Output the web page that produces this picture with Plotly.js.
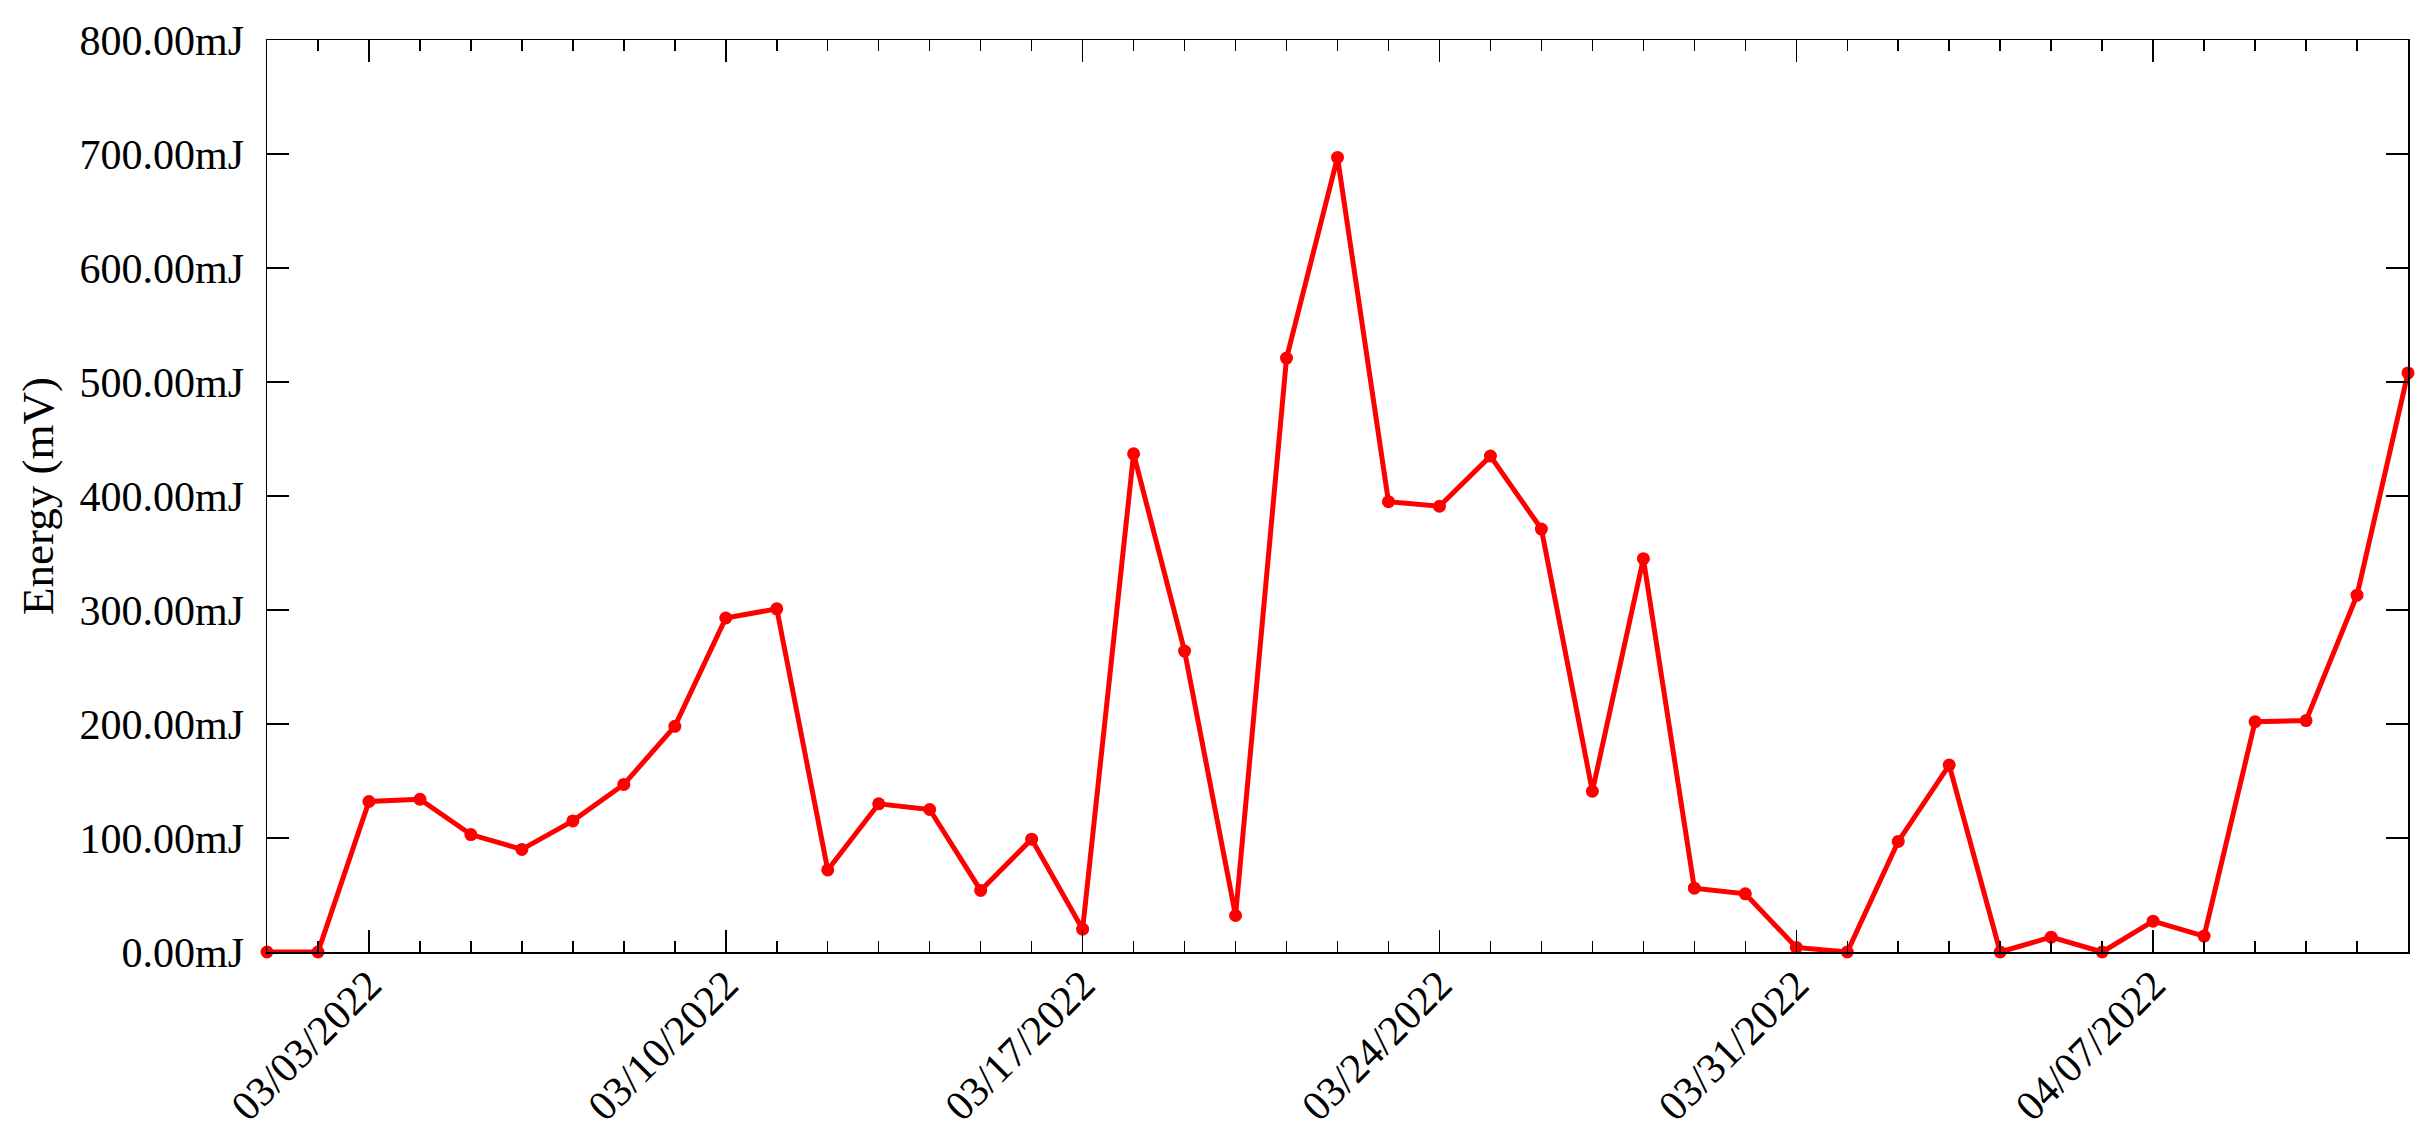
<!DOCTYPE html>
<html>
<head>
<meta charset="utf-8">
<script src="https://cdn.plot.ly/plotly-3.0.1.min.js"></script>
<style>
html, body { margin: 0; padding: 0; background: #ffffff; }
#chart { width: 2426px; height: 1135px; }
</style>
</head>
<body>
<div id="chart"></div>
<script>
const dates = [
  '2022-03-01','2022-03-02','2022-03-03','2022-03-04','2022-03-05','2022-03-06','2022-03-07',
  '2022-03-08','2022-03-09','2022-03-10','2022-03-11','2022-03-12','2022-03-13','2022-03-14',
  '2022-03-15','2022-03-16','2022-03-17','2022-03-18','2022-03-19','2022-03-20','2022-03-21',
  '2022-03-22','2022-03-23','2022-03-24','2022-03-25','2022-03-26','2022-03-27','2022-03-28',
  '2022-03-29','2022-03-30','2022-03-31','2022-04-01','2022-04-02','2022-04-03','2022-04-04',
  '2022-04-05','2022-04-06','2022-04-07','2022-04-08','2022-04-09','2022-04-10','2022-04-11',
  '2022-04-12'
];
const energy = [
  0, 0, 132, 134, 103, 90, 115,
  147, 198, 293, 301, 72, 130, 125,
  54, 99, 20, 437, 264, 32, 521,
  697, 395, 391, 435, 371, 141, 345,
  56, 51, 4, 0, 97, 164, 0,
  13, 0, 27, 14, 202, 203, 313,
  508
];
const yAxisTitle = 'Energy (mV)';
const yUnit = 'mJ';

const font = { family: 'Liberation Serif, Times New Roman, serif', size: 42, color: '#000000' };

const trace = {
  x: dates,
  y: energy,
  type: 'scatter',
  mode: 'lines+markers',
  line: { color: 'rgb(255,0,0)', width: 5 },
  marker: { color: 'rgb(255,0,0)', size: 13 },
  cliponaxis: false,
  hoverinfo: 'skip'
};

const layout = {
  width: 2426,
  height: 1135,
  paper_bgcolor: '#ffffff',
  plot_bgcolor: '#ffffff',
  font: font,
  showlegend: false,
  margin: { l: 267, r: 18, t: 40, b: 183, pad: 0 },
  xaxis: {
    type: 'date',
    range: ['2022-03-01', '2022-04-12'],
    tick0: '2022-03-03',
    dtick: 7 * 86400000,
    tickformat: '%m/%d/%Y',
    tickangle: -45,
    ticks: 'inside',
    ticklen: 22,
    tickwidth: 1.5,
    tickcolor: '#000000',
    showline: true,
    linecolor: '#000000',
    linewidth: 1.5,
    mirror: 'ticks',
    showgrid: false,
    zeroline: false,
    tickfont: font,
    ticklabelstandoff: -10,
    minor: {
      dtick: 86400000,
      tick0: '2022-03-01',
      ticks: 'inside',
      ticklen: 11,
      tickwidth: 1.5,
      tickcolor: '#000000',
      showgrid: false
    }
  },
  yaxis: {
    range: [0, 800],
    dtick: 100,
    tick0: 0,
    tickformat: '.2f',
    ticksuffix: yUnit,
    ticks: 'inside',
    ticklen: 22,
    tickwidth: 1.5,
    tickcolor: '#000000',
    showline: true,
    linecolor: '#000000',
    linewidth: 1.5,
    mirror: 'ticks',
    showgrid: false,
    zeroline: false,
    tickfont: font,
    ticklabelstandoff: 13,
    title: { text: yAxisTitle, font: { family: font.family, size: 45, color: '#000000' }, standoff: 12 }
  }
};

Plotly.newPlot('chart', [trace], layout, { staticPlot: true, displayModeBar: false });
</script>
</body>
</html>
